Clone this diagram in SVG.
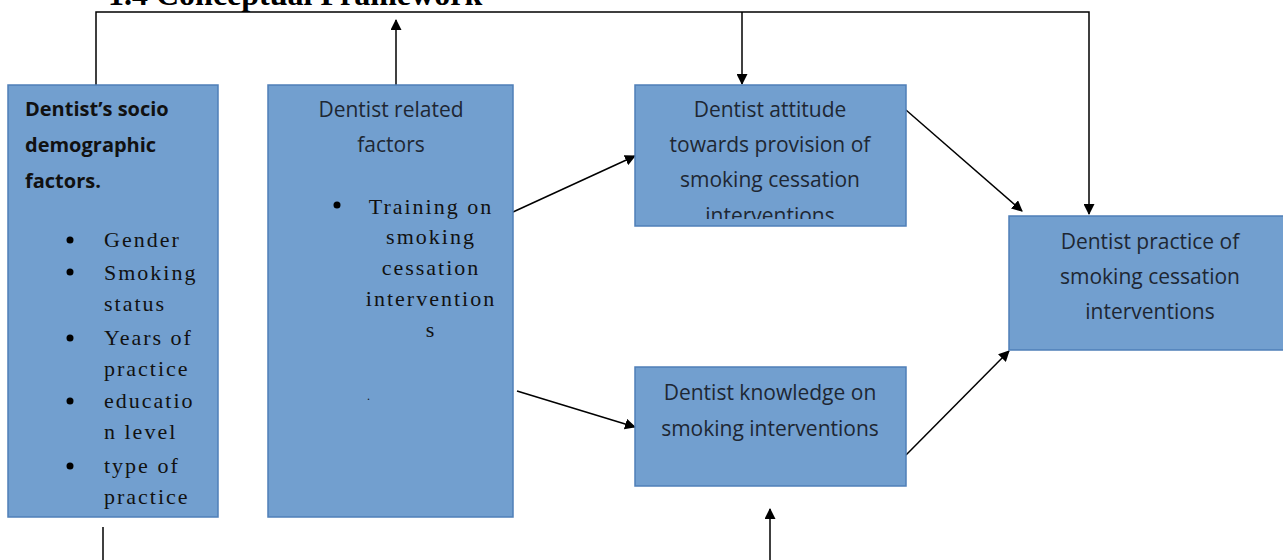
<svg xmlns="http://www.w3.org/2000/svg" width="1283" height="560" viewBox="0 0 1283 560">
<style>
.box{fill:#729fcf;stroke:#4f7fb8;stroke-width:1.5}
.sans{font-family:"Open Sans","Liberation Sans",sans-serif;font-size:21px;fill:#1e2733}
.bold{font-family:"Open Sans","Liberation Sans",sans-serif;font-size:20px;font-weight:bold;fill:#111}
.serif{font-family:"Liberation Serif","DejaVu Serif",serif;font-size:22px;fill:#111;letter-spacing:2px}
.mid{text-anchor:middle}
.ln{fill:none;stroke:#000;stroke-width:1.5}
</style>
<defs>
<marker id="ah" markerWidth="11" markerHeight="11" refX="10" refY="5.5" orient="auto" markerUnits="userSpaceOnUse"><path d="M0,0 L11,5.5 L0,11 z" fill="#000"/></marker>
<clipPath id="c3"><rect x="635" y="85" width="271" height="134"/></clipPath>
</defs>
<rect width="1283" height="560" fill="#fff"/>
<text x="108" y="5" style="font-family:'Liberation Serif',serif;font-size:32px;font-weight:bold" fill="#000">1.4 Conceptual Framework</text>
<g id="connectors">
<polyline class="ln" points="96,85 96,12 1089,12 1089,214" marker-end="url(#ah)"/>
<line class="ln" x1="396" y1="85" x2="396" y2="20" marker-end="url(#ah)"/>
<line class="ln" x1="742" y1="12" x2="742" y2="84" marker-end="url(#ah)"/>
<line class="ln" x1="103" y1="527" x2="103" y2="560"/>
<line class="ln" x1="770" y1="560" x2="770" y2="509" marker-end="url(#ah)"/>
<line class="ln" x1="513" y1="212" x2="635" y2="156" marker-end="url(#ah)"/>
<line class="ln" x1="517" y1="391" x2="635" y2="427" marker-end="url(#ah)"/>
<line class="ln" x1="906" y1="110" x2="1022" y2="211" marker-end="url(#ah)"/>
<line class="ln" x1="906" y1="455" x2="1009" y2="351" marker-end="url(#ah)"/>
</g>
<g id="socio">
<rect class="box" x="8" y="85" width="210" height="432"/>
<text class="bold" x="25" y="116">Dentist’s socio</text>
<text class="bold" x="25" y="152">demographic</text>
<text class="bold" x="25" y="188">factors.</text>
<circle cx="70" cy="240" r="3.5" fill="#000"/><text class="serif" x="104" y="247">Gender</text>
<circle cx="70" cy="272" r="3.5" fill="#000"/><text class="serif" x="104" y="280">Smoking</text>
<text class="serif" x="104" y="311">status</text>
<circle cx="70" cy="338" r="3.5" fill="#000"/><text class="serif" x="104" y="345">Years of</text>
<text class="serif" x="104" y="376">practice</text>
<circle cx="70" cy="401" r="3.5" fill="#000"/><text class="serif" x="104" y="408">educatio</text>
<text class="serif" x="104" y="439">n  level</text>
<circle cx="70" cy="466" r="3.5" fill="#000"/><text class="serif" x="104" y="473">type of</text>
<text class="serif" x="104" y="504">practice</text>
</g>
<g id="related">
<rect class="box" x="268" y="85" width="245" height="432"/>
<text class="sans mid" x="391" y="117">Dentist related</text>
<text class="sans mid" x="391" y="152">factors</text>
<circle cx="337" cy="205" r="3.5" fill="#000"/>
<text class="serif mid" x="431" y="214">Training on</text>
<text class="serif mid" x="431" y="244">smoking</text>
<text class="serif mid" x="431" y="275">cessation</text>
<text class="serif mid" x="431" y="306">intervention</text>
<text class="serif mid" x="431" y="337">s</text>
<text class="serif" x="367" y="400" style="font-size:12px">.</text>
</g>
<g id="attitude">
<rect class="box" x="635" y="85" width="271" height="141"/>
<g clip-path="url(#c3)">
<text class="sans mid" x="770" y="117">Dentist attitude</text>
<text class="sans mid" x="770" y="152">towards provision of</text>
<text class="sans mid" x="770" y="187">smoking cessation</text>
<text class="sans mid" x="770" y="223">interventions</text>
</g>
</g>
<g id="knowledge">
<rect class="box" x="635" y="367" width="271" height="119"/>
<text class="sans mid" x="770" y="400">Dentist knowledge on</text>
<text class="sans mid" x="770" y="436">smoking interventions</text>
</g>
<g id="practice">
<rect class="box" x="1009" y="216" width="280" height="134"/>
<text class="sans mid" x="1150" y="249">Dentist practice of</text>
<text class="sans mid" x="1150" y="284">smoking cessation</text>
<text class="sans mid" x="1150" y="319">interventions</text>
</g>
</svg>
